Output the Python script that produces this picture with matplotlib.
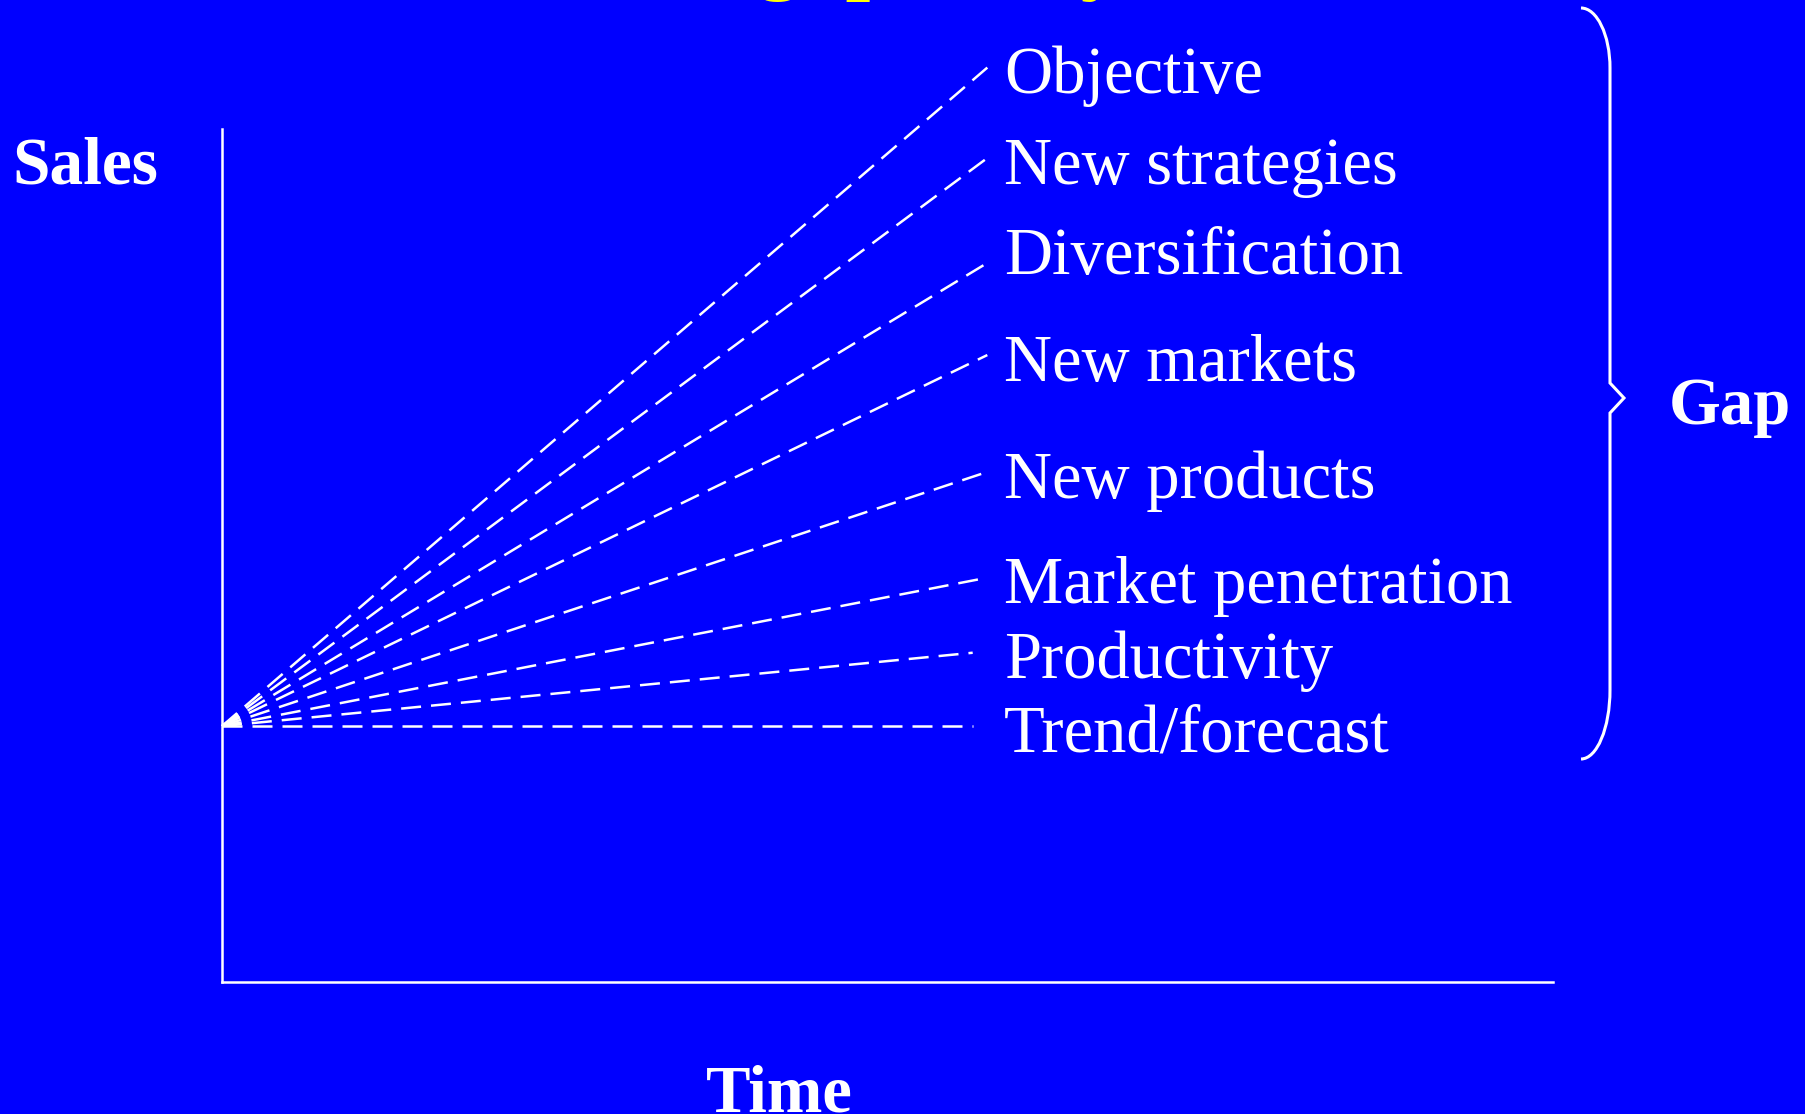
import matplotlib.pyplot as plt
from matplotlib.path import Path
from matplotlib.patches import PathPatch

# Sales projections fanning out from today's level
strategies = ['Objective', 'New strategies', 'Diversification', 'New markets',
              'New products', 'Market penetration', 'Productivity', 'Trend/forecast']
start_sales = 30.0
end_time = [5.75, 5.75, 5.75, 5.75, 5.75, 5.75, 5.64, 5.64]
end_sales = [107.2, 96.6, 84.3, 73.5, 59.8, 47.4, 38.6, 30.0]

BG = '#0000ff'
FG = 'white'
SERIF = ['Liberation Serif', 'DejaVu Serif']

W, H = 1806, 1114
fig = plt.figure(figsize=(W / 100, H / 100), dpi=100, facecolor=BG)

# main sales/time axes
ax = fig.add_axes([222 / W, (H - 982) / H, (1553 - 222) / W, (982 - 129) / H])
ax.set_facecolor(BG)
ax.set_xlim(0, 10)
ax.set_ylim(0, 100)
for side in ['top', 'right']:
    ax.spines[side].set_visible(False)
for side in ['left', 'bottom']:
    ax.spines[side].set_color(FG)
    ax.spines[side].set_linewidth(1.8)
ax.set_xticks([])
ax.set_yticks([])

# label baseline offsets (points); diversification sits a little higher
text_drop = {'Diversification': -8}
for name, tx, ty in zip(strategies, end_time, end_sales):
    ax.plot([0, tx], [start_sales, ty], color=FG, lw=1.8, dashes=(8, 4),
            clip_on=False, solid_capstyle='butt')
    ax.annotate(name, xy=(5.75, ty), xytext=(12, text_drop.get(name, -18.5)),
                textcoords='offset points', ha='left', va='baseline', color=FG,
                fontsize=48, family=SERIF, annotation_clip=False)

# overlay in pixel units for titles and the brace
ov = fig.add_axes([0, 0, 1, 1], facecolor='none')
ov.set_xlim(0, W)
ov.set_ylim(H, 0)
ov.axis('off')

ov.text(903, -17, 'The gap analysis', color='yellow', fontsize=64, weight='bold',
        family=SERIF, ha='center', va='baseline', clip_on=False)
ov.text(12, 167, 'Sales', color=FG, fontsize=48.5, weight='bold', family=SERIF,
        ha='left', va='center')
ov.text(779, 1111, 'Time', color=FG, fontsize=48, weight='bold', family=SERIF,
        ha='center', va='baseline')
ov.text(1669, 407, 'Gap', color=FG, fontsize=48, weight='bold', family=SERIF,
        ha='left', va='center')

k = 0.55
verts = [(1581, 8), (1581 + k * 29, 8), (1610, 68 - k * 60), (1610, 68),
         (1610, 383), (1624, 398), (1610, 413), (1610, 690),
         (1610, 690 + k * 69), (1581 + k * 29, 759), (1581, 759)]
codes = [Path.MOVETO, Path.CURVE4, Path.CURVE4, Path.CURVE4,
         Path.LINETO, Path.LINETO, Path.LINETO, Path.LINETO,
         Path.CURVE4, Path.CURVE4, Path.CURVE4]
ov.add_patch(PathPatch(Path(verts, codes), fill=False, edgecolor=FG, lw=2.2))

fig.savefig('out.png', dpi=100, facecolor=BG)
